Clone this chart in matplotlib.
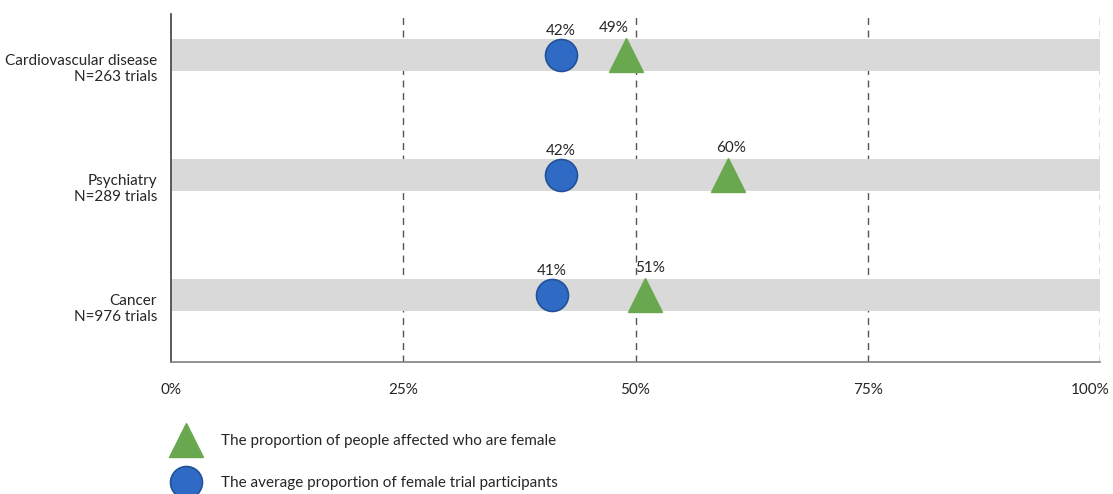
import matplotlib
matplotlib.use("Agg")
import matplotlib.pyplot as plt
import matplotlib.transforms as mtransforms
from matplotlib.lines import Line2D

plt.rcParams["font.family"] = ["Lato", "DejaVu Sans"]

# %%
# female share per therapeutic area
areas = ["Cardiovascular disease", "Psychiatry", "Cancer"]
n_trials = [263, 289, 976]
affected_female = [49, 60, 51]      # % of people affected who are female
participants_female = [42, 42, 41]  # average % of female trial participants
x_ticks = [0, 25, 50, 75, 100]

GREEN = "#6aa84f"
BLUE = "#2f6bc4"
BLUE_EDGE = "#22509a"
TEXT = "#262626"
FS = 11

# %%
fig = plt.figure(figsize=(11.13, 4.94), dpi=100)
ax = fig.add_axes([171 / 1113, 1 - 362 / 494, 929 / 1113, 348 / 494])

rows = list(range(len(areas)))

# grey background band for each area
ax.barh(rows, [100] * len(rows), height=0.267, color="#d9d9d9", zorder=2)

for x in x_ticks[1:]:
    ax.axvline(x, color="#555555", lw=1.0, ls=(0, (5, 4)), zorder=1)

ax.plot(participants_female, rows, "o", ms=23, color=BLUE,
        mec=BLUE_EDGE, mew=1.2, zorder=4, ls="none")
ax.plot(affected_female, rows, "^", ms=24, color=GREEN,
        mec=GREEN, zorder=4, ls="none")

for r, v in zip(rows, participants_female):
    ax.annotate(f"{v}%", (v, r), xytext=(0, 12.5), textcoords="offset points",
                ha="center", va="bottom", fontsize=FS, color=TEXT)
# nudge the triangle labels sideways, clear of the dashed lines
for r, v, dx in zip(rows, affected_female, [-9, 2, 4]):
    ax.annotate(f"{v}%", (v, r), xytext=(dx, 14.5), textcoords="offset points",
                ha="center", va="bottom", fontsize=FS, color=TEXT)

ax.set_xlim(0, 100)
ax.set_ylim(2.558, -0.342)
ax.set_xticks(x_ticks)
ax.set_xticklabels([f"{x}%" for x in x_ticks], fontsize=FS, color=TEXT)
ax.set_yticks(rows)
ax.set_yticklabels([f"{a}\nN={n} trials" for a, n in zip(areas, n_trials)],
                   fontsize=FS, color=TEXT, linespacing=1.25)
ax.tick_params(length=0)
ax.tick_params(axis="x", pad=15)
ax.tick_params(axis="y", pad=10)

# push the two-line labels down so the first line sits on the band
shift = mtransforms.ScaledTranslation(0, -11 / 100, fig.dpi_scale_trans)
for lab in ax.get_yticklabels():
    lab.set_transform(lab.get_transform() + shift)
# keep the last tick label inside the figure
last = ax.get_xticklabels()[-1]
last.set_transform(last.get_transform() +
                   mtransforms.ScaledTranslation(-10 / 100, 0, fig.dpi_scale_trans))

for side in ["top", "right"]:
    ax.spines[side].set_visible(False)
ax.spines["left"].set_color("#404040")
ax.spines["bottom"].set_color("#7f7f7f")
ax.spines["left"].set_linewidth(1.2)
ax.spines["bottom"].set_linewidth(1.2)

handles = [
    Line2D([], [], marker="^", ms=24, color=GREEN, ls="none"),
    Line2D([], [], marker="o", ms=23, color=BLUE, mec=BLUE_EDGE, mew=1.2, ls="none"),
]
labels = [
    "The proportion of people affected who are female",
    "The average proportion of female trial participants",
]
fig.legend(handles, labels, loc="upper left", bbox_to_anchor=(163 / 1113, 1 - 428 / 494),
           frameon=False, fontsize=FS, labelspacing=1.85, handletextpad=1.2,
           handlelength=2.2, labelcolor=TEXT, borderaxespad=0)

fig.savefig("out.png", dpi=100)
